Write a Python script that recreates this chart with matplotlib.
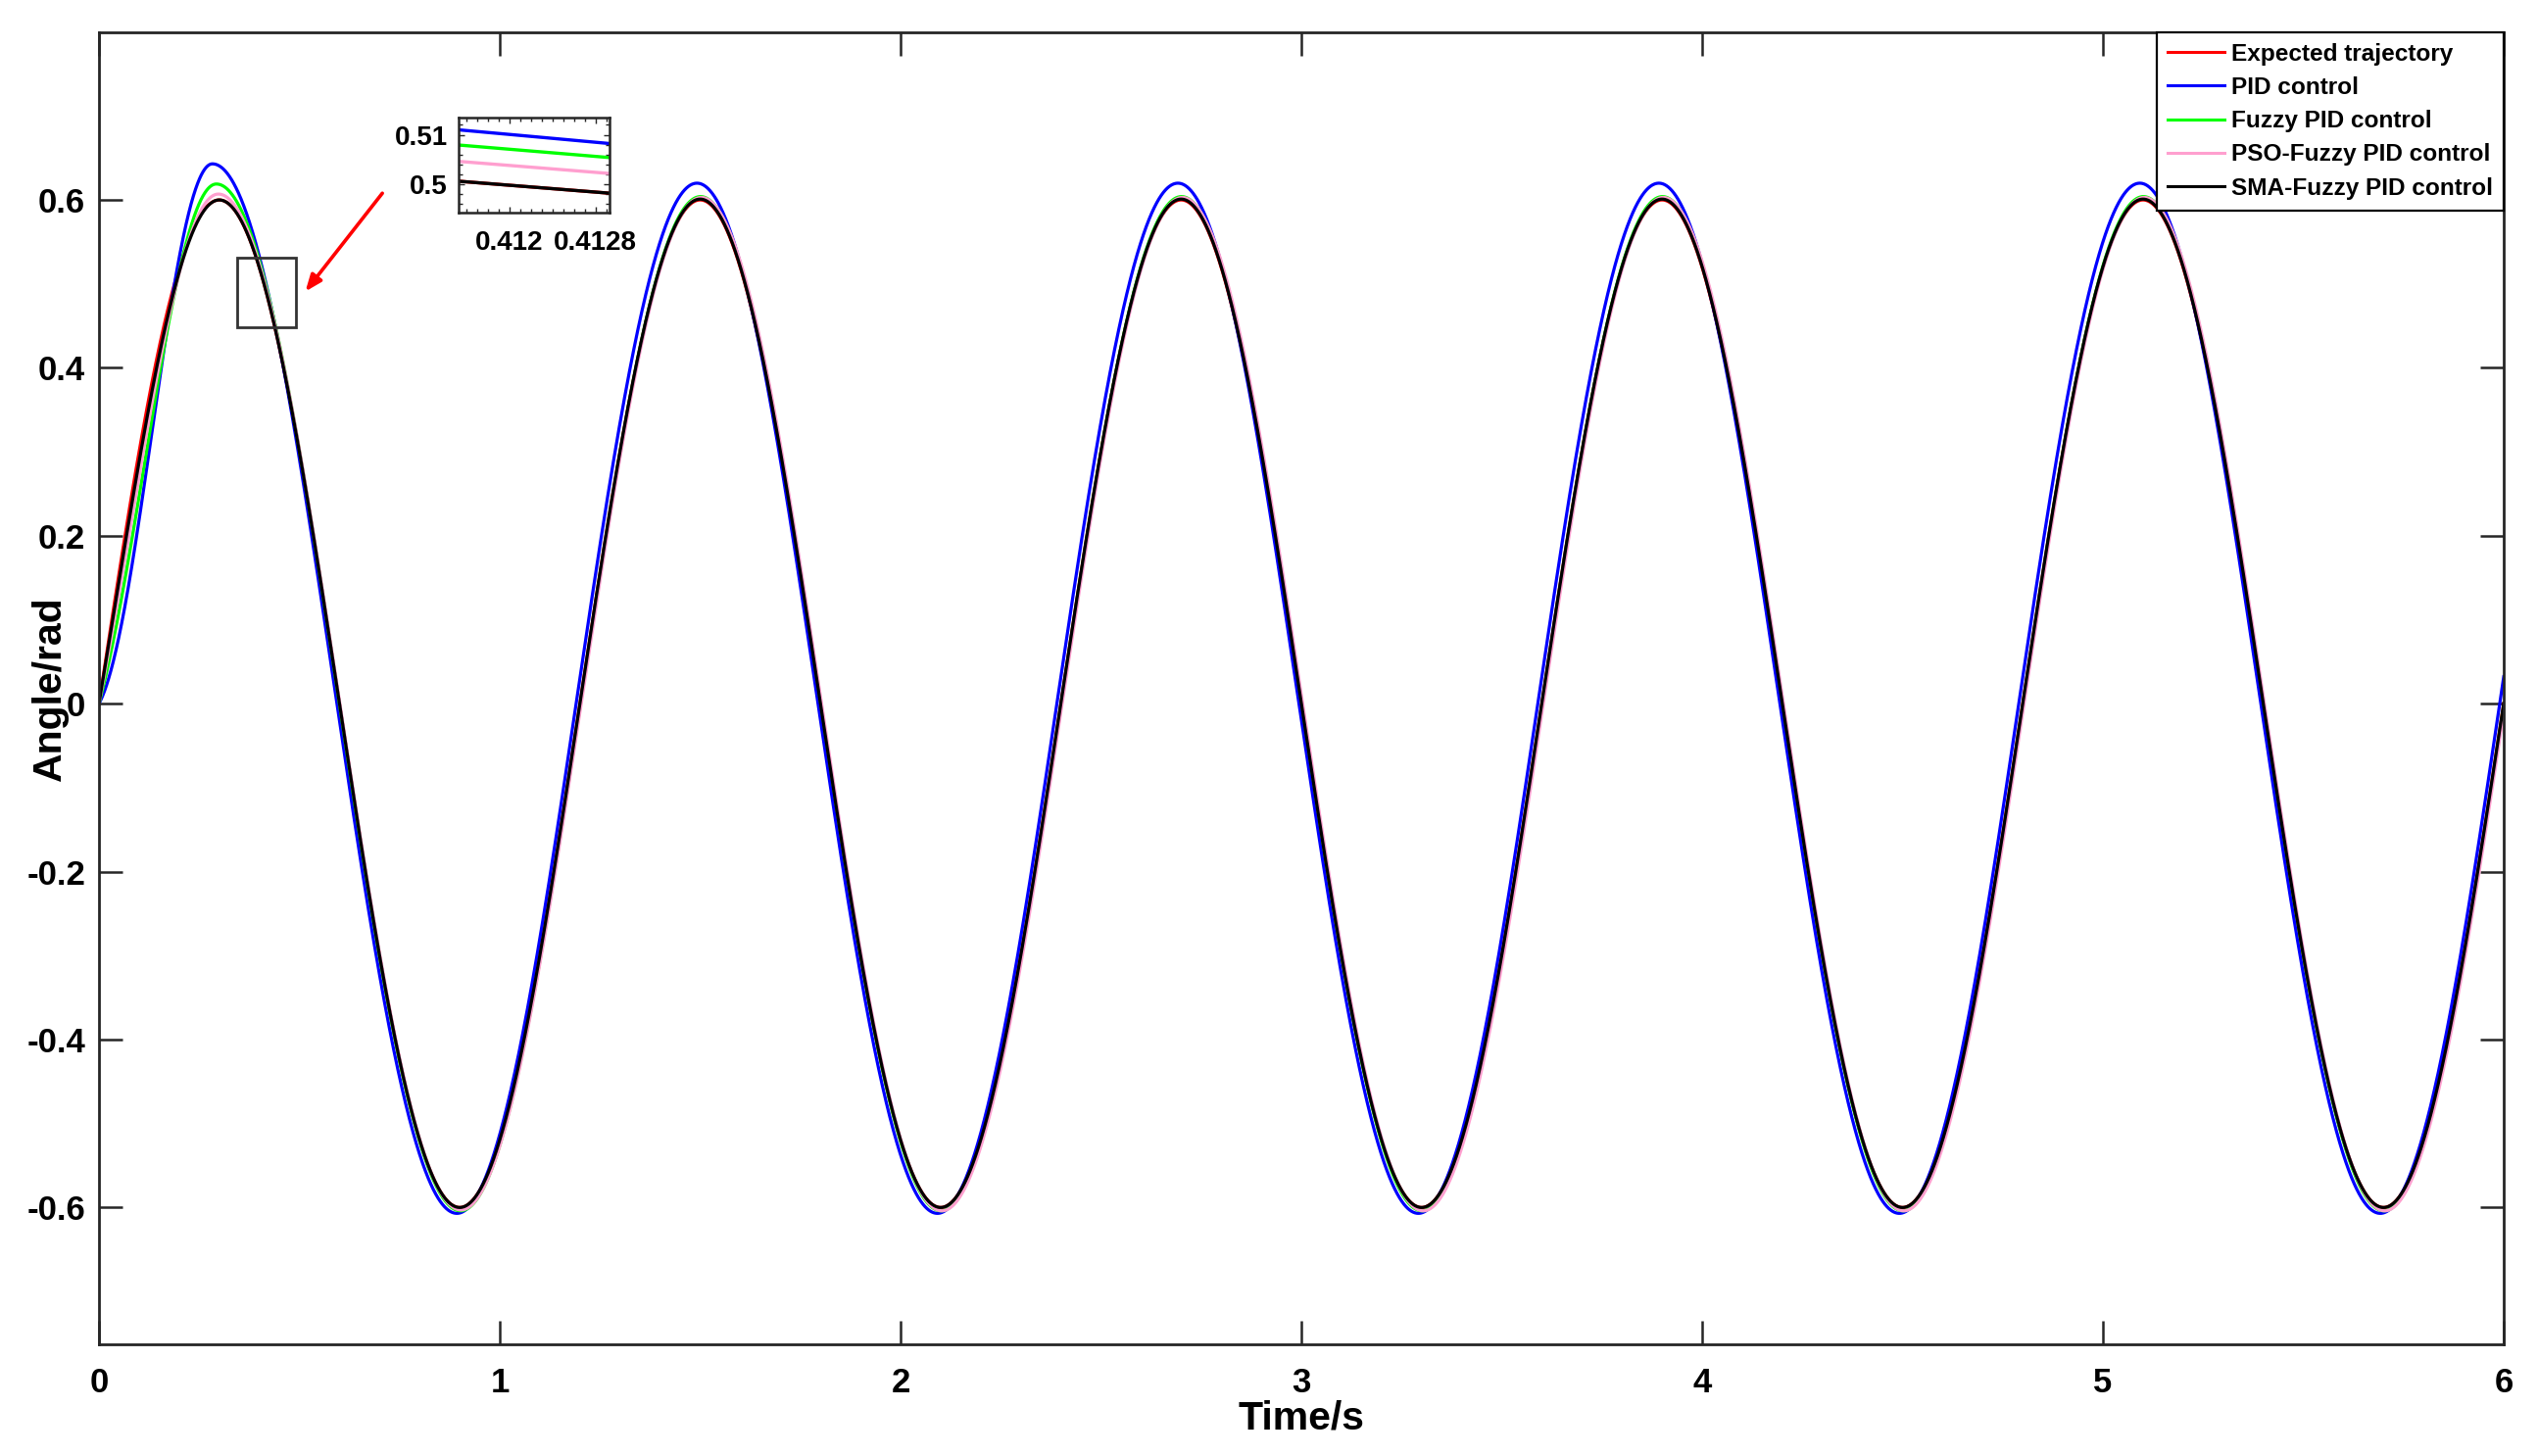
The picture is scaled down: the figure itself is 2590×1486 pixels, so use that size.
import numpy as np
import matplotlib
matplotlib.use("Agg")
import matplotlib.pyplot as plt
from matplotlib.patches import Rectangle
from matplotlib.ticker import MultipleLocator

plt.rcParams['font.family'] = ['Liberation Sans', 'DejaVu Sans']
plt.rcParams['font.weight'] = 'bold'

# ---------------- data ----------------
series_names = ["Expected trajectory", "PID control", "Fuzzy PID control",
                "PSO-Fuzzy PID control", "SMA-Fuzzy PID control"]
series_colors = ["#ff0000", "#0000ff", "#00ff00", "#ff9fcf", "#000000"]

# times (s) of successive peaks / troughs and their values (rad)
ref_ext_t = [0.300, 0.900, 1.500, 2.100, 2.700, 3.300, 3.900, 4.500, 5.100, 5.700, 6.300]
ref_ext_v = [0.600, -0.600, 0.600, -0.600, 0.600, -0.600, 0.600, -0.600, 0.600, -0.600, 0.600]

pid_ext_t = [0.283, 0.893, 1.492, 2.092, 2.692, 3.292, 3.892, 4.492, 5.092, 5.692, 6.292]
pid_ext_v = [0.643, -0.607, 0.620, -0.607, 0.620, -0.607, 0.620, -0.607, 0.620, -0.607, 0.620]

fuzzy_ext_t = [0.2928, 0.902, 1.501, 2.101, 2.701, 3.301, 3.901, 4.501, 5.101, 5.701, 6.301]
fuzzy_ext_v = [0.619, -0.604, 0.604, -0.604, 0.604, -0.604, 0.604, -0.604, 0.604, -0.604, 0.604]

pso_ext_t = [0.2978, 0.903, 1.503, 2.103, 2.703, 3.304, 3.903, 4.503, 5.103, 5.703, 6.303]
pso_ext_v = [0.607, -0.603, 0.603, -0.604, 0.603, -0.604, 0.603, -0.604, 0.603, -0.604, 0.603]

sma_ext_t = [0.3000, 0.900, 1.500, 2.100, 2.700, 3.300, 3.900, 4.500, 5.100, 5.700, 6.300]
sma_ext_v = [0.600, -0.600, 0.601, -0.600, 0.601, -0.600, 0.601, -0.600, 0.601, -0.600, 0.601]

# start-up sluggishness of each response (0 = follows reference start, 1 = flat start)
startup_lag = [0.0, 0.75, 0.45, 0.23, 0.08]

x_ticks = [0, 1, 2, 3, 4, 5, 6]
x_ticklabels = ["0", "1", "2", "3", "4", "5", "6"]
y_ticks = [-0.6, -0.4, -0.2, 0.0, 0.2, 0.4, 0.6]
y_ticklabels = ["-0.6", "-0.4", "-0.2", "0", "0.2", "0.4", "0.6"]

inset_xlim = (0.41153, 0.41293)
inset_ylim = (0.4942, 0.5135)
inset_xticks = [0.412, 0.4128]
inset_xticklabels = ["0.412", "0.4128"]
inset_yticks = [0.50, 0.51]
inset_yticklabels = ["0.5", "0.51"]

zoom_box = (0.344, 0.448, 0.147, 0.083)   # x, y, width, height (data units)
arrow_from = (0.707, 0.608)
arrow_to = (0.515, 0.491)


def build(t, ext_t, ext_v, w):
    y = np.zeros_like(t)
    tp, P = ext_t[0], ext_v[0]
    m = t <= tp
    s = t[m] / tp
    y[m] = P * ((1 - w) * np.sin(np.pi / 2 * s) + w * (1 - np.cos(np.pi * s)) / 2)
    for i in range(len(ext_t) - 1):
        a, b = ext_t[i], ext_t[i + 1]
        m = (t > a) & (t <= b)
        s = (t[m] - a) / (b - a)
        y[m] = ext_v[i] + (ext_v[i + 1] - ext_v[i]) * (1 - np.cos(np.pi * s)) / 2
    return y


t = np.linspace(0, 6, 60001)
ext_sets = [(ref_ext_t, ref_ext_v), (pid_ext_t, pid_ext_v), (fuzzy_ext_t, fuzzy_ext_v),
            (pso_ext_t, pso_ext_v), (sma_ext_t, sma_ext_v)]
curves = [build(t, et, ev, w) for (et, ev), w in zip(ext_sets, startup_lag)]

# ---------------- figure ----------------
fig = plt.figure(figsize=(25.9, 14.86), dpi=100)
ax = fig.add_axes([0.039, 0.0767, 0.9475, 0.9013])

for y, c, n in zip(curves, series_colors, series_names):
    ax.plot(t, y, color=c, lw=2.3, label=n)

ax.set_xlim(0, 6)
ax.set_ylim(-0.763, 0.80)
ax.set_xticks(x_ticks)
ax.set_xticklabels(x_ticklabels)
ax.set_yticks(y_ticks)
ax.set_yticklabels(y_ticklabels)
spine_col = "#262626"
for sp in ax.spines.values():
    sp.set_linewidth(2.0)
    sp.set_color(spine_col)
ax.tick_params(direction="in", length=17, width=1.8, color=spine_col,
               top=True, right=True, labelsize=25)
ax.tick_params(axis="x", pad=16.5)
ax.tick_params(axis="y", pad=10)
ax.set_xlabel("Time/s", fontsize=29.5, fontweight="bold", labelpad=0.5)
ax.set_ylabel("Angle/rad", fontsize=29.5, fontweight="bold")
ax.yaxis.set_label_coords(-0.0125, 0.5)

leg = ax.legend(loc="upper right", borderaxespad=0, frameon=True,
                fancybox=False, framealpha=1, edgecolor="black",
                borderpad=0.45, labelspacing=0.46, handlelength=2.4,
                handletextpad=0.28, prop={"weight": "bold", "size": 17.6})
leg.get_frame().set_linewidth(1.6)
for line in leg.get_lines():
    line.set_linewidth(2.2)

# zoom rectangle and arrow
ax.add_patch(Rectangle((zoom_box[0], zoom_box[1]), zoom_box[2], zoom_box[3],
                       fill=False, edgecolor="#333333", lw=2.0, zorder=5))
ax.annotate("", xy=arrow_to, xytext=arrow_from,
            arrowprops=dict(arrowstyle="-|>,head_length=1.0,head_width=0.4",
                            color="#ff0000", lw=2.6, shrinkA=0, shrinkB=0))

# inset
axin = fig.add_axes([0.1807, 0.854, 0.0595, 0.0653])
for y, c in zip(curves, series_colors):
    axin.plot(t, y, color=c, lw=2.4)
axin.set_xlim(*inset_xlim)
axin.set_ylim(*inset_ylim)
axin.set_xticks(inset_xticks)
axin.set_xticklabels(inset_xticklabels)
axin.set_yticks(inset_yticks)
axin.set_yticklabels(inset_yticklabels)
axin.xaxis.set_minor_locator(MultipleLocator(0.0001))
axin.yaxis.set_minor_locator(MultipleLocator(0.002))
for sp in axin.spines.values():
    sp.set_linewidth(1.8)
    sp.set_color(spine_col)
axin.tick_params(which="both", direction="in", top=True, right=True,
                 color=spine_col, width=1.0)
axin.tick_params(which="major", length=4, labelsize=20)
axin.tick_params(which="minor", length=3)
axin.tick_params(axis="x", pad=13)
axin.tick_params(axis="y", pad=8)

fig.savefig("out.png", dpi=100)
